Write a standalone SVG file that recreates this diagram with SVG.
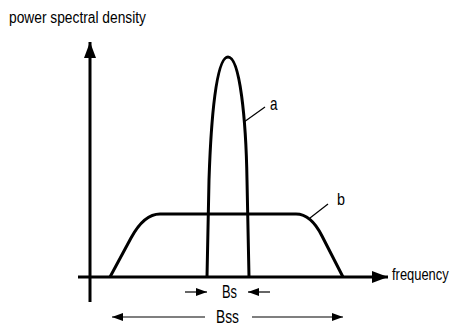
<svg xmlns="http://www.w3.org/2000/svg" width="454" height="326" viewBox="0 0 454 326">
<style>
text{font-family:"Liberation Sans",Arial,sans-serif;fill:#000}
.ax{stroke:#000;stroke-width:3;fill:none}
.cv{stroke:#000;stroke-width:3;fill:none;stroke-linejoin:round}
.thin{stroke:#000;stroke-width:1.2;fill:none}
</style>
<defs>
<marker id="big" markerWidth="16" markerHeight="12" refX="16" refY="6" orient="auto" markerUnits="userSpaceOnUse"><path d="M0,0L16,6L0,12Z" fill="#000"/></marker>
<marker id="small" markerWidth="11" markerHeight="8" refX="11" refY="4" orient="auto" markerUnits="userSpaceOnUse"><path d="M0,0L11,4L0,8Z" fill="#000"/></marker>
</defs>
<rect width="454" height="326" fill="#fff"/>
<text x="9" y="23" font-size="16" textLength="137" lengthAdjust="spacingAndGlyphs">power spectral density</text>
<g id="connectors">
<line class="ax" x1="90" y1="302" x2="90" y2="42" marker-end="url(#big)"/>
<line class="ax" x1="78" y1="277" x2="388" y2="277" marker-end="url(#big)"/>
<line class="thin" x1="244" y1="122" x2="265" y2="107"/>
<line class="thin" x1="310" y1="218" x2="328" y2="204"/>
<line class="thin" x1="185" y1="292" x2="207" y2="292" marker-end="url(#small)"/>
<line class="thin" x1="270" y1="292" x2="248" y2="292" marker-end="url(#small)"/>
<line class="thin" x1="205" y1="317" x2="112" y2="317" marker-end="url(#small)"/>
<line class="thin" x1="252" y1="317" x2="343" y2="317" marker-end="url(#small)"/>
</g>
<g id="curve-a">
<path class="cv" d="M207,277 L209,180 C211,120 216,57 228,57 C240,57 246,120 247,180 L249,277"/>
<text x="270" y="110" font-size="19" textLength="7.5" lengthAdjust="spacingAndGlyphs">a</text>
</g>
<g id="curve-b">
<path class="cv" d="M110,277 L131,238 Q144,214 160,214 L296,214 Q311,214 322,236 L343,277"/>
<text x="337" y="205" font-size="17" textLength="8" lengthAdjust="spacingAndGlyphs">b</text>
</g>
<text transform="translate(392,280) scale(0.76,1)" font-size="17">frequency</text>
<text x="222" y="298" font-size="18" textLength="15" lengthAdjust="spacingAndGlyphs">Bs</text>
<text x="216" y="323" font-size="18" textLength="23" lengthAdjust="spacingAndGlyphs">Bss</text>
</svg>
